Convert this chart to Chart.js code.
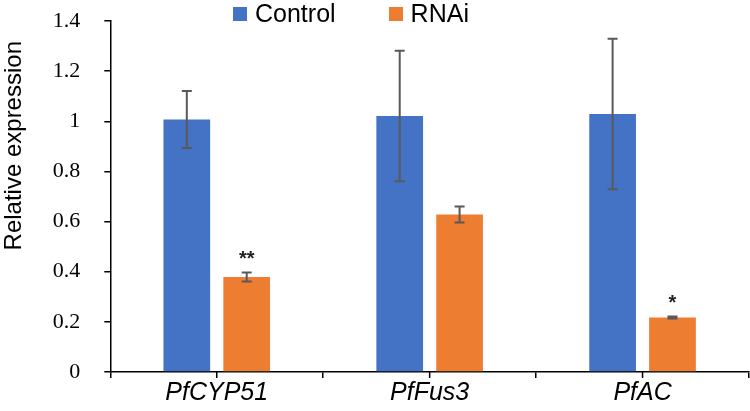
<!DOCTYPE html>
<html>
<head>
<meta charset="utf-8">
<script src="https://cdn.jsdelivr.net/npm/chart.js@4.4.0/dist/chart.umd.min.js"></script>
<style>
  body { margin: 0; background: #fff; }
  #wrap { position: relative; width: 750px; height: 411px; }
  #legend { position: absolute; left: 233px; top: 0px; display: flex; font-family: "Liberation Sans", Arial, sans-serif; font-size: 25px; color: #000; }
  .item { display: flex; align-items: center; margin-right: 53px; height: 27px; }
  .box { width: 14px; height: 14px; margin-right: 8px; }
</style>
</head>
<body>
<div id="wrap">
  <canvas id="myChart" width="750" height="411"></canvas>
  <div id="legend"></div>
</div>
<script>
// data
const categories = ['PfCYP51', 'PfFus3', 'PfAC'];
const seriesNames = ['Control', 'RNAi'];
const controlValues = [1.007, 1.021, 1.029];
const controlErrors = [0.114, 0.26, 0.30];
const rnaiValues = [0.379, 0.628, 0.217];
const rnaiErrors = [0.018, 0.032, 0.004];
const rnaiStars = ['**', '', '*'];
const yTickLabels = ['0', '0.2', '0.4', '0.6', '0.8', '1', '1.2', '1.4'];

const colors = ['#4472C4', '#ED7D31'];
const errors = [controlErrors, rnaiErrors];
const stars = [null, rnaiStars];

// simple html legend
const legendEl = document.getElementById('legend');
seriesNames.forEach((name, i) => {
    const item = document.createElement('div');
    item.className = 'item';
    item.innerHTML = '<div class="box" style="background:' + colors[i] + '"></div><span>' + name + '</span>';
    legendEl.appendChild(item);
});

// error bars, significance stars and the centre ticks on the x axis
const extras = {
    id: 'extras',
    afterDatasetsDraw(chart) {
        const ctx = chart.ctx;
        const y = chart.scales.y;
        const x = chart.scales.x;
        ctx.save();
        chart.data.datasets.forEach((ds, d) => {
            const meta = chart.getDatasetMeta(d);
            meta.data.forEach((bar, i) => {
                const v = ds.data[i];
                const e = errors[d][i];
                const top = y.getPixelForValue(v + e);
                const bot = y.getPixelForValue(v - e);
                ctx.strokeStyle = '#595959';
                ctx.lineWidth = 2;
                ctx.beginPath();
                ctx.moveTo(bar.x, top); ctx.lineTo(bar.x, bot);
                ctx.moveTo(bar.x - 5, top); ctx.lineTo(bar.x + 5, top);
                ctx.moveTo(bar.x - 5, bot); ctx.lineTo(bar.x + 5, bot);
                ctx.stroke();
                if (stars[d] && stars[d][i]) {
                    ctx.fillStyle = '#222';
                    ctx.font = 'bold 20px "Liberation Sans", Arial, sans-serif';
                    ctx.textAlign = 'center';
                    ctx.textBaseline = 'middle';
                    ctx.fillText(stars[d][i], bar.x, top - 13);
                }
            });
        });
        // ticks at category centres
        ctx.strokeStyle = '#000';
        ctx.lineWidth = 1.5;
        categories.forEach((c, i) => {
            const px = x.getPixelForValue(i);
            ctx.beginPath();
            ctx.moveTo(px, y.bottom);
            ctx.lineTo(px, y.bottom + 6);
            ctx.stroke();
        });
        ctx.restore();
    }
};

const ctx = document.getElementById('myChart').getContext('2d');

const myChart = new Chart(ctx, {
    type: 'bar',
    data: {
        labels: categories,
        datasets: [{
            label: seriesNames[0],
            data: controlValues,
            backgroundColor: colors[0]
        }, {
            label: seriesNames[1],
            data: rnaiValues,
            backgroundColor: colors[1]
        }]
    },
    options: {
        responsive: false,
        animation: false,
        categoryPercentage: 0.5625,
        barPercentage: 0.78,
        layout: { padding: { left: 0, right: 1, top: 21, bottom: 3 } },
        plugins: {
            legend: { display: false },
            tooltip: { enabled: false }
        },
        scales: {
            y: {
                min: 0,
                max: 1.4,
                // big label padding would also push the plot down, so trim it back
                afterFit: (scale) => { scale.paddingTop = 13; scale.paddingBottom = 13; },
                border: { display: true, color: '#000', width: 1.5 },
                grid: { drawOnChartArea: false, drawTicks: true, tickLength: 6, color: '#000', lineWidth: 1.5 },
                ticks: {
                    stepSize: 0.2,
                    padding: 24,
                    color: '#000',
                    font: { family: '"Liberation Serif", "Times New Roman", serif', size: 22 },
                    callback: (val, idx) => yTickLabels[idx]
                },
                title: {
                    display: true,
                    text: 'Relative expression   ',
                    align: 'end',
                    color: '#000',
                    padding: 0,
                    font: { family: '"Liberation Sans", Arial, sans-serif', size: 24 }
                }
            },
            x: {
                border: { display: true, color: '#000', width: 1.5 },
                grid: { drawOnChartArea: false, offset: true, tickLength: 6, color: '#000', lineWidth: 1.5 },
                ticks: {
                    padding: 0,
                    color: '#000',
                    font: { family: '"Liberation Sans", Arial, sans-serif', size: 25, style: 'italic' }
                }
            }
        }
    },
    plugins: [extras]
});
</script>
</body>
</html>
